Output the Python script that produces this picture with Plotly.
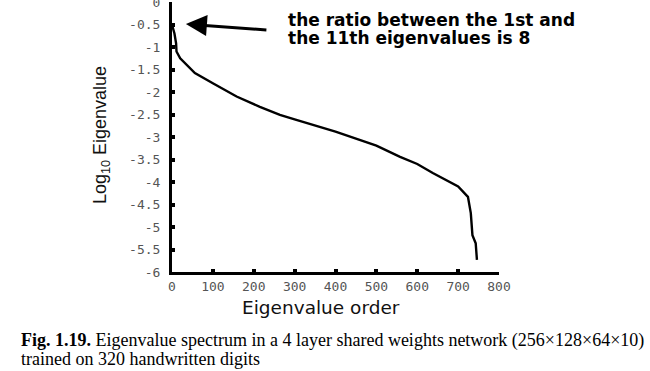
import plotly.graph_objects as go

# Data
order = [0, 6, 10, 11, 20, 36, 56, 101, 158, 215, 264, 300, 400, 500, 558, 600, 638, 700, 724, 731, 735, 743, 746]
log_eig = [-0.51, -0.70, -0.92, -1.10, -1.25, -1.40, -1.58, -1.81, -2.10, -2.33, -2.51, -2.61, -2.88, -3.19, -3.44, -3.60, -3.80, -4.10, -4.33, -4.69, -5.18, -5.36, -5.73]

x_ticks = [0, 100, 200, 300, 400, 500, 600, 700, 800]
y_ticks = [0, -0.5, -1, -1.5, -2, -2.5, -3, -3.5, -4, -4.5, -5, -5.5, -6]
y_tick_text = ["0", "-0.5", "-1", "-1.5", "-2", "-2.5", "-3", "-3.5", "-4", "-4.5", "-5", "-5.5", "-6"]

L, R, T, B = 172, 151, 2, 99
PW, PH = 650 - L - R, 371 - T - B

def px(xp):
    return (xp - L) / PW

def py(yp):
    return (371 - B - yp) / PH

fig = go.Figure()
fig.add_trace(go.Scatter(x=order, y=log_eig, mode="lines",
                         line=dict(color="black", width=2.4), showlegend=False))

tickfont = dict(family="DejaVu Sans Mono, monospace", size=13, color="#555")

fig.update_layout(
    width=650, height=371,
    margin=dict(l=L, r=R, t=T, b=B),
    paper_bgcolor="white", plot_bgcolor="white",
    xaxis=dict(range=[0, 800], tickvals=x_ticks, ticktext=[str(v) for v in x_ticks],
               showgrid=False, zeroline=False, showline=True, linecolor="black", linewidth=3,
               ticks="inside", ticklen=3, tickwidth=4, tickcolor="black",
               tickfont=tickfont, automargin=False, ticklabeloverflow="allow"),
    yaxis=dict(range=[-6, 0], tickvals=y_ticks, ticktext=y_tick_text,
               showgrid=False, zeroline=False, showline=True, linecolor="black", linewidth=3,
               ticks="inside", ticklen=3, tickwidth=4, tickcolor="black",
               tickfont=tickfont, automargin=False, ticklabeloverflow="allow",
               ticklabelstandoff=6),
)

# Axis titles
fig.add_annotation(x=px(321), y=py(307), xref="paper", yref="paper",
                   text="Eigenvalue order", showarrow=False,
                   xanchor="center", yanchor="middle",
                   font=dict(family="DejaVu Sans, sans-serif", size=18.5, color="#111"))
fig.add_annotation(x=px(101), y=py(135), xref="paper", yref="paper",
                   text="Log<sub>10</sub> Eigenvalue", showarrow=False, textangle=-90,
                   xanchor="center", yanchor="middle",
                   font=dict(family="Liberation Sans, Arial", size=18, color="#111"))

# Arrow annotation
fig.add_annotation(x=34, y=-0.49, xref="x", yref="y", text="", showarrow=True,
                   ax=82, ay=6, arrowhead=2, arrowsize=1.4, arrowwidth=3, arrowcolor="black")
fig.add_annotation(x=px(286), y=py(20), xref="paper", yref="paper",
                   text="<b>the ratio between the 1st and</b>",
                   showarrow=False, xanchor="left", yanchor="middle", align="left",
                   font=dict(family="DejaVu Sans, sans-serif", size=17, color="black"))
fig.add_annotation(x=px(286), y=py(38), xref="paper", yref="paper",
                   text="<b>the 11th eigenvalues is 8</b>",
                   showarrow=False, xanchor="left", yanchor="middle", align="left",
                   font=dict(family="DejaVu Sans, sans-serif", size=17, color="black"))

# Caption
fig.add_annotation(x=px(19), y=py(340), xref="paper", yref="paper",
                   text="<b>Fig. 1.19.</b> Eigenvalue spectrum in a 4 layer shared weights network (256×128×64×10)",
                   showarrow=False, xanchor="left", yanchor="middle", align="left",
                   font=dict(family="Liberation Serif, serif", size=18, color="black"))
fig.add_annotation(x=px(19), y=py(359), xref="paper", yref="paper",
                   text="trained on 320 handwritten digits",
                   showarrow=False, xanchor="left", yanchor="middle", align="left",
                   font=dict(family="Liberation Serif, serif", size=18, color="black"))

fig.write_html("out.html", config={"displayModeBar": False},
               post_script="document.body.style.margin='0';document.body.style.overflow='hidden';")
